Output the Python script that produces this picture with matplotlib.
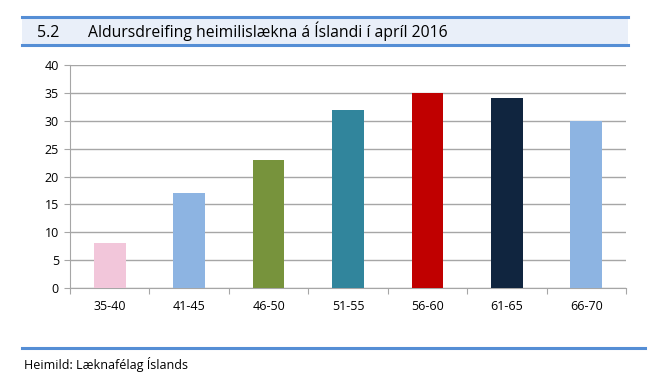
import matplotlib
matplotlib.use("Agg")
import matplotlib.pyplot as plt
from matplotlib.patches import Rectangle
from matplotlib.lines import Line2D

plt.rcParams['font.family'] = ['Open Sans', 'DejaVu Sans']

categories = ["35-40", "41-45", "46-50", "51-55", "56-60", "61-65", "66-70"]
values = [8, 17, 23, 32, 35, 34, 30]
colors = ["#F2C6DA", "#8DB4E2", "#77933C", "#31859C", "#C00000", "#10253F", "#8DB4E2"]

fig = plt.figure(figsize=(6.66, 3.91), dpi=100)

# title band
W, H = 666, 391
fig.patches.append(Rectangle((22 / W, 1 - 45 / H), (628 - 22) / W, 28 / H,
                             transform=fig.transFigure, facecolor="#E9EFF9", edgecolor="none"))
for yy in (17, 45):
    fig.lines.append(Line2D([22 / W, 628 / W], [1 - yy / H, 1 - yy / H],
                            transform=fig.transFigure, color="#558ED5", lw=2.2))
fig.text(37 / W, 1 - 37 / H, "5.2", fontsize=11.5, va="baseline", ha="left")
fig.text(88 / W, 1 - 37 / H, "Aldursdreifing heimilislækna á Íslandi í apríl 2016",
         fontsize=11.3, va="baseline", ha="left")

# bottom rule and source
fig.lines.append(Line2D([22 / W, 645 / W], [1 - 348 / H, 1 - 348 / H],
                        transform=fig.transFigure, color="#558ED5", lw=2.2))
fig.text(24 / W, 1 - 369 / H, "Heimild: Læknafélag Íslands", fontsize=9, va="baseline", ha="left")

ax = fig.add_axes([70 / W, 1 - 288 / H, (626 - 70) / W, (288 - 65) / H])
x = range(len(categories))
ax.bar(x, values, width=0.4, color=colors, zorder=3)
ax.set_xlim(-0.5, len(categories) - 0.5)
ax.set_ylim(0, 40)
ax.set_yticks(range(0, 41, 5))
ax.yaxis.grid(True, color="#A6A6A6", lw=1, zorder=0)
ax.set_xticks([i - 0.5 for i in range(len(categories) + 1)], minor=False)
ax.set_xticklabels([])
ax.set_xticks(list(x), minor=True)
ax.set_xticklabels(categories, minor=True)
ax.tick_params(axis="x", which="minor", length=0, pad=9, labelsize=9)
ax.tick_params(axis="x", which="major", length=4, color="#A6A6A6")
ax.tick_params(axis="y", length=4, color="#A6A6A6", labelsize=9, pad=4)
for s in ("top", "right"):
    ax.spines[s].set_visible(False)
for s in ("left", "bottom"):
    ax.spines[s].set_color("#A6A6A6")

fig.savefig("out.png", dpi=100)
